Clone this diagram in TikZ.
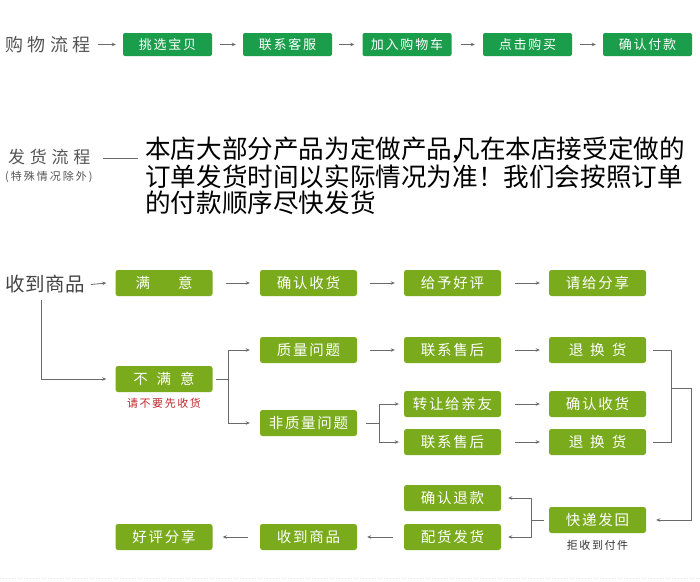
\documentclass[tikz,border=0pt]{standalone}
\usepackage{fontspec}
\setmainfont{Noto Sans CJK SC}
\newfontfamily\cjkA[LetterSpace=14]{Noto Sans CJK SC}
\newfontfamily\cjkB[LetterSpace=25]{Noto Sans CJK SC}
\newfontfamily\cjkC[LetterSpace=28]{Noto Sans CJK SC}
\newfontfamily\cjkD[LetterSpace=3]{Noto Sans CJK SC}
\newfontfamily\cjkE[LetterSpace=12]{Noto Sans CJK SC}
\newfontfamily\cjkF[LetterSpace=18]{Noto Sans CJK SC}
\newfontfamily\cjkBig{Noto Sans CJK SC}
\usetikzlibrary{arrows.meta}
\definecolor{dkgreen}{HTML}{1A9E4B}
\definecolor{ltgreen}{HTML}{7AAB1D}
\definecolor{arrgray}{HTML}{6A6A6A}
\definecolor{labgray}{HTML}{555555}
\definecolor{redlab}{HTML}{C0282E}
\tikzset{
  gbox/.style={fill=dkgreen, rounded corners=2pt, minimum width=89pt, minimum height=23pt, inner sep=0pt, text=white, font=\cjkA\fontsize{13}{13}\selectfont},
  lbox/.style={fill=ltgreen, rounded corners=2.5pt, minimum width=97pt, minimum height=26pt, inner sep=0pt, text=white, font=\cjkE\fontsize{14.5}{14.5}\selectfont},
  arr/.style={draw=arrgray, line width=0.8pt, -{Stealth[length=4pt,width=3.5pt]}},
  ln/.style={draw=arrgray, line width=0.8pt},
  lab/.style={anchor=west, inner sep=0pt},
}
\begin{document}
\begin{tikzpicture}[x=1pt,y=-1pt]
\useasboundingbox (0,0) rectangle (700,581);
\fill[white] (0,0) rectangle (700,581);

% ---- row 1: shopping process
\node[lab, text=labgray, font=\cjkB\fontsize{18}{18}\selectfont] (gw) at (5,44.5) {购物流程};
\node[gbox] (t1) at (167.5,44.5) {挑选宝贝};
\node[gbox] (t2) at (287.5,44.5) {联系客服};
\node[gbox] (t3) at (407,44.5) {加入购物车};
\node[gbox] (t4) at (527.5,44.5) {点击购买};
\node[gbox] (t5) at (647.5,44.5) {确认付款};
\draw[arr] (98,44.5) -- ([xshift=-7pt]t1.west);
\draw[arr] ([xshift=8pt]t1.east) -- ([xshift=-7pt]t2.west);
\draw[arr] ([xshift=7pt]t2.east) -- ([xshift=-8pt]t3.west);
\draw[arr] ([xshift=9pt]t3.east) -- ([xshift=-8pt]t4.west);
\draw[arr] ([xshift=8pt]t4.east) -- ([xshift=-7pt]t5.west);

% ---- row 2: shipping process
\node[lab, text=labgray, font=\cjkC\fontsize{17}{17}\selectfont] (fh) at (8,157.5) {发货流程};
\node[lab, text=labgray, font=\cjkF\fontsize{11}{11}\selectfont] (ts) at (5,177) {(特殊情况除外)};
\coordinate (fl1) at (103,158);
\coordinate (fl2) at (138,158);
\draw[line width=0.8pt, draw=arrgray] (fl1) -- (fl2);
\node[lab, font=\cjkBig\fontsize{25.6}{25.6}\selectfont] (p1) at (145,150) {本店大部分产品为定做产品,\hspace{-5pt}凡在本店接受定做的};
\node[lab, font=\cjkBig\fontsize{25.6}{25.6}\selectfont] (p2) at (145,177) {订单发货时间以实际情况为准！我们会按照订单};
\node[lab, font=\cjkBig\fontsize{25.6}{25.6}\selectfont] (p3) at (145,202.5) {的付款顺序尽快发货};

% ---- row 3: receiving goods
\node[lab, text=labgray!80!black, font=\cjkD\fontsize{19.5}{19.5}\selectfont] (sd0) at (5,284.5) {收到商品};
\node[lbox] (my) at (164,283) {满\hspace{28pt}意};
\node[lbox] (qr1) at (308.5,283) {确认收货};
\node[lbox] (gy) at (452.5,283) {给予好评};
\node[lbox] (qg) at (597.5,283) {请给分享};

\node[lbox] (zl) at (308.5,350) {质量问题};
\node[lbox] (lx1) at (452.5,350) {联系售后};
\node[lbox] (th1) at (597.5,350) {退\hspace{7pt}换\hspace{7pt}货};

\node[lbox] (nm) at (164,379) {不\hspace{9pt}满\hspace{9pt}意};
\node[text=redlab, inner sep=0pt, font=\cjkA\fontsize{11}{11}\selectfont] (bq) at (164,403.5) {请不要先收货};

\node[lbox] (fz) at (308.5,423) {非质量问题};
\node[lbox] (zr) at (452.5,404) {转让给亲友};
\node[lbox] (qr2) at (597.5,404) {确认收货};
\node[lbox] (lx2) at (452.5,442) {联系售后};
\node[lbox] (th2) at (597.5,442) {退\hspace{7pt}换\hspace{7pt}货};

\node[lbox] (qt) at (452.5,498) {确认退款};
\node[lbox] (kd) at (597.5,520) {快递发回};
\node[text=black!80, inner sep=0pt, font=\cjkA\fontsize{11}{11}\selectfont] (jd) at (597.5,545) {拒收到付件};

\node[lbox] (hp) at (164,537) {好评分享};
\node[lbox] (sd) at (308.5,537) {收到商品};
\node[lbox] (ph) at (452.5,537) {配货发货};

% connectors row 1
\draw[arr] (91,284.5) -- ([xshift=-9pt]my.west);
\draw[arr] ([xshift=13pt]my.east) -- ([xshift=-10pt]qr1.west);
\draw[arr] ([xshift=13pt]qr1.east) -- ([xshift=-9pt]gy.west);
\draw[arr] ([xshift=14pt]gy.east) -- ([xshift=-9pt]qg.west);

% down to 不满意
\coordinate (c0) at (41,300);
\draw[arr] (c0) |- ([xshift=-9pt]nm.west);

% 不满意 branch
\coordinate (b1) at (228,379);
\draw[ln] ([xshift=3pt]nm.east) -- (b1);
\draw[arr] (b1) |- ([xshift=-10pt]zl.west);
\draw[arr] (b1) |- ([xshift=-10pt]fz.west);

\draw[arr] ([xshift=13pt]zl.east) -- ([xshift=-9pt]lx1.west);
\draw[arr] ([xshift=14pt]lx1.east) -- ([xshift=-9pt]th1.west);

% 非质量问题 branch
\coordinate (b2) at (379,423);
\draw[ln] ([xshift=9pt]fz.east) -- (b2);
\draw[arr] (b2) |- ([xshift=-5pt]zr.west);
\draw[arr] (b2) |- ([xshift=-5pt]lx2.west);
\draw[arr] ([xshift=14pt]zr.east) -- ([xshift=-9pt]qr2.west);
\draw[arr] ([xshift=14pt]lx2.east) -- ([xshift=-9pt]th2.west);

% right bracket
\coordinate (r1) at (671,350);
\coordinate (r2) at (671,442);
\coordinate (r3) at (671,388);
\coordinate (r4) at (691,388);
\draw[ln] ([xshift=7pt]th1.east) -- (r1) -- (r2) -- ([xshift=7pt]th2.east);
\draw[arr] (r3) -- (r4) |- ([xshift=10pt]kd.east);

% 快递发回 branch
\coordinate (b3) at (531,520);
\draw[ln] ([xshift=-5pt]kd.west) -- (b3);
\draw[arr] (b3) |- ([xshift=7pt]qt.east);
\draw[arr] (b3) |- ([xshift=7pt]ph.east);

% bottom row
\draw[arr] ([xshift=-11pt]ph.west) -- ([xshift=10pt]sd.east);
\draw[arr] ([xshift=-12pt]sd.west) -- ([xshift=10pt]hp.east);

% faint dotted bottom line
\draw[black!12, line width=1pt, dash pattern=on 1pt off 2pt] (0,578) -- (700,578);
\end{tikzpicture}
\end{document}
